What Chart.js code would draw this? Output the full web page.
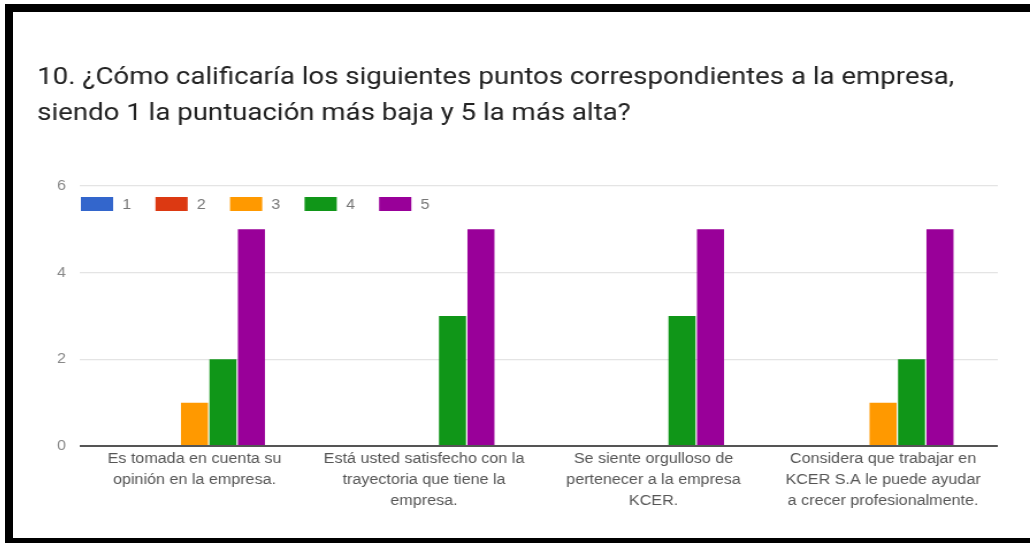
<!DOCTYPE html>
<html>
<head>
<meta charset="utf-8">
<script src="https://cdn.jsdelivr.net/npm/chart.js@4/dist/chart.umd.min.js"></script>
<style>
  html, body { margin: 0; padding: 0; background: #fff; overflow: hidden; }
  .frame {
    position: absolute;
    left: 5px;
    top: 4px;
    width: 1040px;
    height: 526px;
    border: 8px solid #000;
    background: #fff;
  }
  /* the form screenshot is a bit wider than tall, so stretch horizontally */
  #surveyChart {
    display: block;
    transform: scaleX(1.1505);
    transform-origin: 0 0;
  }
</style>
</head>
<body>
<div class="frame">
  <canvas id="surveyChart" width="884" height="526"></canvas>
</div>
<script>
// Questions (x axis), one array per line of the label
const categories = [
  ['Es tomada en cuenta su', 'opinión en la empresa.'],
  ['Está usted satisfecho con la', 'trayectoria que tiene la', 'empresa.'],
  ['Se siente orgulloso de', 'pertenecer a la empresa', 'KCER.'],
  ['Considera que trabajar en', 'KCER S.A le puede ayudar', 'a crecer profesionalmente.'],
];

// Number of answers per score
const score1 = [0, 0, 0, 0];
const score2 = [0, 0, 0, 0];
const score3 = [1, 0, 0, 1];
const score4 = [2, 3, 3, 2];
const score5 = [5, 5, 5, 5];

const seriesLabels = ['1', '2', '3', '4', '5'];
const seriesColors = ['#3366cc', '#dc3912', '#ff9900', '#109618', '#990099'];
const yTicks = [0, 2, 4, 6];

const titleLines = [
  '10. ¿Cómo calificaría los siguientes puntos correspondientes a la empresa,',
  'siendo 1 la puntuación más baja y 5 la más alta?',
];

const labelFont = '"Liberation Sans", Arial, sans-serif';

// Legend drawn inside the plot area, top-left (like Google Forms)
const insideLegend = {
  id: 'insideLegend',
  afterDraw(chart) {
    const { ctx, chartArea } = chart;
    const boxW = 28;
    const boxH = 14;
    const step = 64.8;
    const y = chartArea.top + 11;
    ctx.save();
    ctx.font = '14px ' + labelFont;
    ctx.textBaseline = 'middle';
    ctx.textAlign = 'left';
    chart.data.datasets.forEach((ds, i) => {
      const x = chartArea.left + 1 + i * step;
      ctx.fillStyle = ds.backgroundColor;
      ctx.fillRect(x, y, boxW, boxH);
      ctx.fillStyle = '#777';
      ctx.fillText(ds.label, x + boxW + 8, y + boxH / 2 + 1);
    });
    ctx.restore();
  },
};

const allScores = [score1, score2, score3, score4, score5];

const ctx = document.getElementById('surveyChart').getContext('2d');

const surveyChart = new Chart(ctx, {
  type: 'bar',
  data: {
    labels: categories,
    datasets: allScores.map((values, i) => ({
      label: seriesLabels[i],
      data: values,
      backgroundColor: seriesColors[i],
      borderWidth: 0,
      categoryPercentage: 0.62,
      barPercentage: 0.95,
    })),
  },
  options: {
    responsive: false,
    animation: false,
    layout: {
      padding: { left: 21, right: 28, top: 0, bottom: 23 },
    },
    scales: {
      x: {
        grid: { display: false, drawTicks: false },
        border: { display: false },
        ticks: {
          autoSkip: false,
          maxRotation: 0,
          minRotation: 0,
          padding: 3,
          color: '#555',
          font: { family: labelFont, size: 14, lineHeight: '21px' },
        },
      },
      y: {
        min: 0,
        max: 6,
        afterFit: (axis) => {
          axis.width = 37;
        },
        afterBuildTicks: (axis) => {
          axis.ticks = yTicks.map((v) => ({ value: v }));
        },
        border: { display: false },
        grid: {
          drawTicks: false,
          color: (c) => (c.tick.value === 0 ? '#555' : '#e4e4e4'),
          lineWidth: (c) => (c.tick.value === 0 ? 2 : 1.2),
        },
        ticks: {
          padding: 12,
          color: '#888',
          font: { family: labelFont, size: 14 },
        },
      },
    },
    plugins: {
      legend: { display: false },
      tooltip: { enabled: false },
      title: {
        display: true,
        text: titleLines,
        align: 'start',
        color: '#222',
        font: { family: 'Roboto', size: 24, weight: 'normal', lineHeight: '36px' },
        padding: { top: 48, bottom: 54 },
      },
    },
  },
  plugins: [insideLegend],
});
</script>
</body>
</html>
